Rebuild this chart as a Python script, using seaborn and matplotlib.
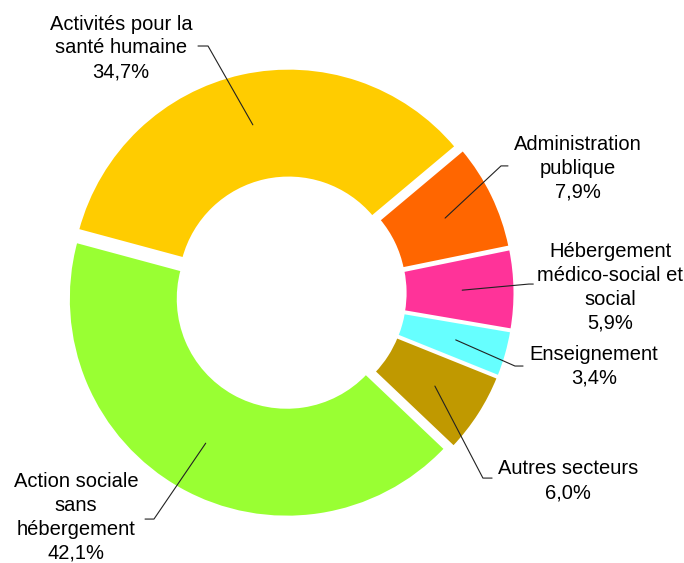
import matplotlib
matplotlib.use("Agg")
import matplotlib.pyplot as plt
import numpy as np
import seaborn as sns

# ── DATA ───────────────────────────────────────────────────
sectors = [
    "Administration\npublique",
    "Hébergement\nmédico-social et\nsocial",
    "Enseignement",
    "Autres secteurs",
    "Action sociale\nsans\nhébergement",
    "Activités pour la\nsanté humaine",
]
shares = [7.9, 5.9, 3.4, 6.0, 42.1, 34.7]
colors = ["#FF6600", "#FF3399", "#66FFFF", "#C09900", "#99FF33", "#FFCC00"]

# ── LABEL LAYOUT (units of the outer radius) ───────────────
label_xy = [(1.321, 0.573), (1.468, 0.025), (1.394, -0.337),
            (1.275, -0.862), (-0.982, -1.028), (-0.775, 1.124)]
elbow_xy = [(0.968, 0.583), (1.096, 0.041), (1.032, -0.335),
            (0.885, -0.849), (-0.624, -1.037), (-0.376, 1.133)]
stub_len = [0.032, 0.02, 0.037, 0.042, -0.041, -0.046]

sns.set_style("white")
plt.rcParams["font.family"] = ["Liberation Sans", "DejaVu Sans"]

fig = plt.figure(figsize=(6.84, 5.63), dpi=100)
ax = fig.add_axes([0, 0, 1, 1])

wedges, _ = ax.pie(
    shares,
    colors=colors,
    startangle=40,
    counterclock=False,
    explode=[0.03] * len(shares),
    wedgeprops=dict(width=0.5, edgecolor="white", linewidth=1.5),
)

# ── LABELS + LEADER LINES ──────────────────────────────────
for w, name, val, (tx, ty), (ex, ey), s in zip(
        wedges, sectors, shares, label_xy, elbow_xy, stub_len):
    ang = np.deg2rad((w.theta1 + w.theta2) / 2)
    cx, cy = w.center
    px, py = cx + 0.76 * np.cos(ang), cy + 0.76 * np.sin(ang)
    ax.plot([px, ex, ex + s], [py, ey, ey], color="#222222", lw=0.8)
    txt = f"{name}\n{val:.1f}%".replace(".", ",")
    ax.text(tx, ty, txt, ha="center", va="center", multialignment="center",
            fontsize=14.5, color="black", linespacing=1.33)

ax.set_xlim(-290 / 218, (684 - 290) / 218)
ax.set_ylim(-(563 - 293) / 218, 293 / 218)
ax.set_aspect("equal", adjustable="box")
ax.axis("off")

fig.savefig("out.png", dpi=100, facecolor="white")
